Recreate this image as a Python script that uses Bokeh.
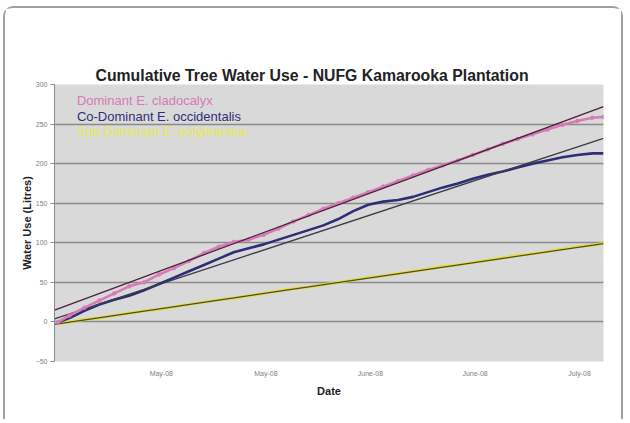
from bokeh.plotting import figure
from bokeh.models import Range1d, FixedTicker, Label
from bokeh.embed import file_html
from bokeh.resources import INLINE

# days since 26 Apr 2008
days = [0.5] + list(range(2, 73, 2)) + [73.5]
dominant = [0, 8, 18, 27, 36, 45, 50, 60, 68, 77, 87, 95, 101, 104, 110, 118, 127, 135, 143,
            150, 157, 164, 171, 178, 185, 192, 198, 204, 211, 218, 225, 231, 237, 243, 249,
            254, 258, 259]
codominant = [0, 5, 14, 22, 28, 33, 40, 48, 56, 64, 72, 80, 88, 93, 98, 104, 110, 116, 122,
              130, 140, 148, 152, 154, 158, 164, 170, 175, 181, 186, 190, 195, 200, 204, 208,
              211, 213, 213]
subdominant = [-2, 0, 3, 5, 8, 11, 14, 16, 19, 22, 25, 28, 30, 33, 36, 39, 42, 44, 47, 50, 53,
               56, 58, 61, 64, 67, 70, 72, 75, 78, 81, 84, 86, 89, 92, 95, 97, 99]
trend_days = [0, 73.5]
dominant_trend = [15, 272]
codominant_trend = [4, 232]
subdominant_trend = [-3, 99]

series_names = ["Dominant E. cladocalyx", "Co-Dominant E. occidentalis", "Sub Dominant E. polybractea"]
x_ticks = [14.3, 28.3, 42.3, 56.3, 70.3]
x_tick_labels = ["May-08", "May-08", "June-08", "June-08", "July-08"]
y_ticks = [-50, 0, 50, 100, 150, 200, 250, 300]

FONT = "Liberation Sans"

p = figure(width=620, height=413, output_backend="svg", toolbar_location=None,
           x_range=Range1d(0, 73.5), y_range=Range1d(-50, 300),
           min_border_left=49, min_border_right=22, min_border_top=76, min_border_bottom=60)
p.styles = {"border": "2px solid #a0a0a0", "border-bottom": "none",
            "border-radius": "10px 10px 0 0", "margin-left": "3px", "margin-top": "6px"}
p.background_fill_color = "#d9d9d9"
p.border_fill_color = "white"
p.outline_line_color = None

p.title.text = "Cumulative Tree Water Use - NUFG Kamarooka Plantation"
p.title.align = "left"
p.title.offset = 41
p.title.text_font = FONT
p.title.text_font_size = "15.8px"
p.title.text_font_style = "bold"
p.title.text_color = "#222222"
p.title.standoff = 2

p.xgrid.visible = False
p.ygrid.ticker = FixedTicker(ticks=[0, 50, 100, 150, 200, 250])
p.ygrid.grid_line_color = "#8a8a8a"
p.ygrid.grid_line_width = 1.6

p.yaxis.ticker = FixedTicker(ticks=y_ticks)
p.xaxis.ticker = FixedTicker(ticks=x_ticks)
p.xaxis.major_label_overrides = {t: l for t, l in zip(x_ticks, x_tick_labels)}
for ax in (p.xaxis[0], p.yaxis[0]):
    ax.major_label_text_font = FONT
    ax.major_label_text_font_size = "7px"
    ax.major_label_text_color = "#808080"
    ax.axis_label_text_font = FONT
    ax.axis_label_text_font_size = "11px"
    ax.axis_label_text_font_style = "bold"
    ax.axis_label_text_color = "#222222"
    ax.minor_tick_line_color = None
    ax.major_tick_in = 0
p.yaxis.axis_line_color = "#8a8a8a"
p.yaxis.major_tick_line_color = "#8a8a8a"
p.yaxis.major_tick_out = 4
p.yaxis.major_label_standoff = 3
p.yaxis.axis_label = "Water Use (Litres)"
p.yaxis.axis_label_standoff = 0
p.xaxis.axis_line_color = None
p.xaxis.major_tick_line_color = None
p.xaxis.major_label_standoff = 2
p.xaxis.axis_label = "Date"
p.xaxis.axis_label_standoff = 5

pink = "#d67ab8"
navy = "#2e2e78"
yellow = "#e8dc3c"

p.line(days, subdominant, line_color=yellow, line_width=3)
p.line(trend_days, subdominant_trend, line_color="#4a4a30", line_width=1.2)
p.line(days, codominant, line_color=navy, line_width=2.6)
p.line(trend_days, codominant_trend, line_color="#3c3c48", line_width=1.3)
p.line(days, dominant, line_color=pink, line_width=2.6)
p.scatter(days, dominant, size=3.5, color=pink)
p.line(trend_days, dominant_trend, line_color="#4a2238", line_width=1.3)

legend_y = [280, 260, 241]
legend_colors = [pink, navy, "#eaea50"]
for name, yy, c in zip(series_names, legend_y, legend_colors):
    p.add_layout(Label(x=3.0, y=yy, text=name, text_color=c, text_font=FONT,
                       text_font_size="13px", text_baseline="middle"))

open("out.html", "w").write(file_html(p, INLINE))
